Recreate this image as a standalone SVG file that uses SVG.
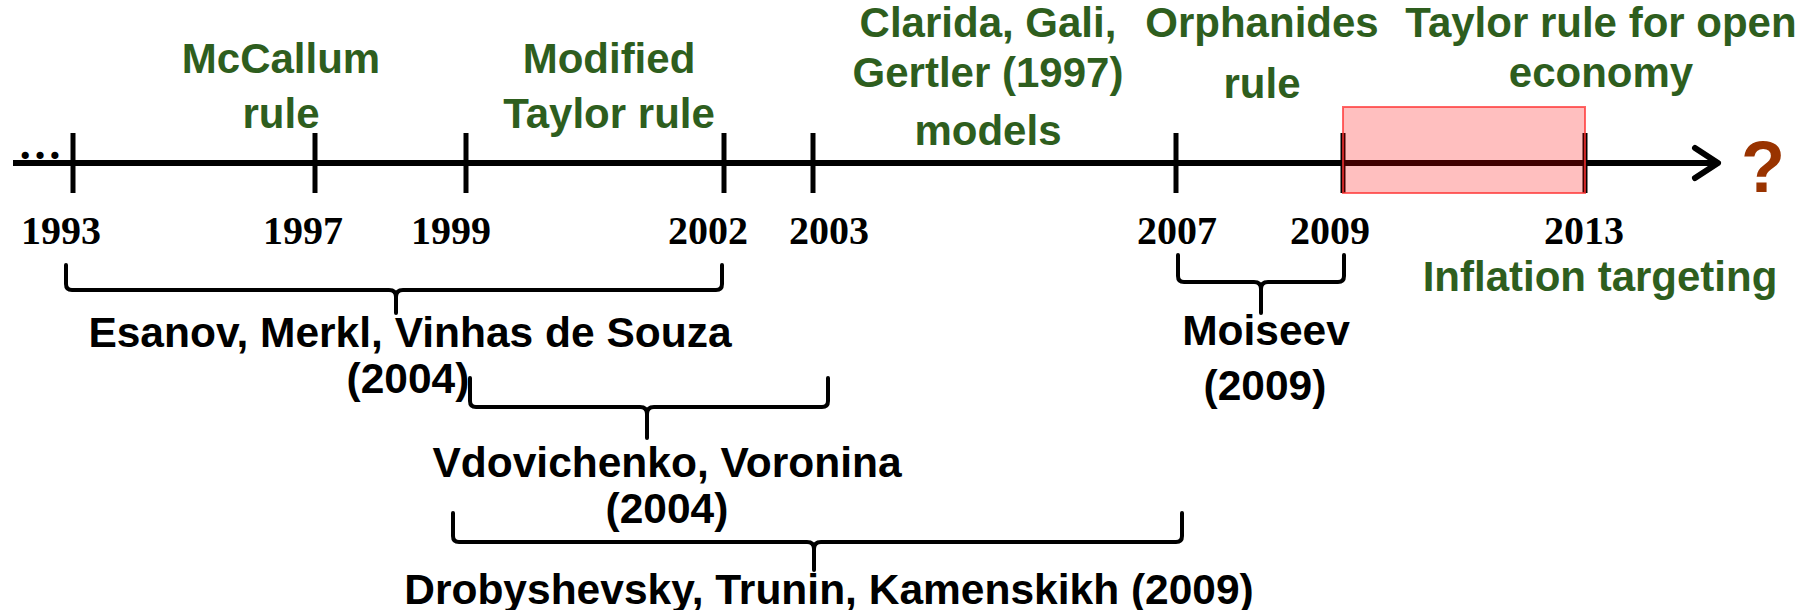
<svg xmlns="http://www.w3.org/2000/svg" width="1813" height="610" viewBox="0 0 1813 610">
<style>
.yr{font-family:"Liberation Serif","Times New Roman",serif;font-weight:bold;font-size:40px;fill:#000;text-anchor:middle}
.gr{font-family:"Liberation Sans",Arial,sans-serif;font-weight:bold;font-size:42px;fill:#2E5E1E;text-anchor:middle}
.bk{font-family:"Liberation Sans",Arial,sans-serif;font-weight:bold;font-size:42.5px;fill:#000;text-anchor:middle}
.tick{stroke:#000;stroke-width:5}
.brace{fill:none;stroke:#000;stroke-width:4;stroke-linecap:round;stroke-linejoin:round}
</style>
<rect width="1813" height="610" fill="#fff"/>
<g id="connectors">
  <line x1="13" y1="163" x2="1717" y2="163" stroke="#000" stroke-width="6"/>
  <polyline points="1695,148 1718,163 1695,178" fill="none" stroke="#000" stroke-width="6" stroke-linecap="round" stroke-linejoin="round"/>
  <line class="tick" x1="73" y1="133" x2="73" y2="193"/>
  <line class="tick" x1="315" y1="133" x2="315" y2="193"/>
  <line class="tick" x1="466" y1="133" x2="466" y2="193"/>
  <line class="tick" x1="724" y1="133" x2="724" y2="193"/>
  <line class="tick" x1="813" y1="133" x2="813" y2="193"/>
  <line class="tick" x1="1176" y1="133" x2="1176" y2="193"/>
  <line class="tick" x1="1343" y1="133" x2="1343" y2="193"/>
  <line class="tick" x1="1585" y1="133" x2="1585" y2="193"/>
  <path class="brace" d="M66,265 V284 Q66,290 72,290 H389 Q396,290 396,297 V313 M396,297 Q396,290 403,290 H716 Q722,290 722,284 V265"/>
  <path class="brace" d="M470,378 V401 Q470,407 476,407 H640 Q647,407 647,414 V438 M647,414 Q647,407 654,407 H822 Q828,407 828,401 V378"/>
  <path class="brace" d="M453,513 V536 Q453,542 459,542 H807 Q814,542 814,549 V570 M814,549 Q814,542 821,542 H1176 Q1182,542 1182,536 V513"/>
  <path class="brace" d="M1178,255 V276 Q1178,282 1184,282 H1254 Q1261,282 1261,289 V313 M1261,289 Q1261,282 1268,282 H1338 Q1344,282 1344,276 V255"/>
</g>
<g id="period-2009-2013">
  <rect x="1343" y="107" width="242" height="86" fill="#FF0000" fill-opacity="0.25" stroke="#FF3333" stroke-opacity="0.75" stroke-width="2"/>
</g>
<g id="ellipsis"><text x="18" y="159" font-family="Liberation Serif,serif" font-weight="bold" font-size="44">…</text></g>
<g id="question"><text x="1741" y="192" font-family="Liberation Sans,Arial,sans-serif" font-weight="bold" font-size="72" fill="#993300">?</text></g>
<g id="years">
  <text class="yr" x="61" y="244">1993</text>
  <text class="yr" x="303" y="244">1997</text>
  <text class="yr" x="451" y="244">1999</text>
  <text class="yr" x="708" y="244">2002</text>
  <text class="yr" x="829" y="244">2003</text>
  <text class="yr" x="1177" y="244">2007</text>
  <text class="yr" x="1330" y="244">2009</text>
  <text class="yr" x="1584" y="244">2013</text>
</g>
<g id="mccallum"><text class="gr" x="281" y="73">McCallum</text><text class="gr" x="281" y="128">rule</text></g>
<g id="modified-taylor"><text class="gr" x="609" y="73">Modified</text><text class="gr" x="609" y="128">Taylor rule</text></g>
<g id="cgg"><text class="gr" x="988" y="37">Clarida, Gali,</text><text class="gr" x="988" y="87">Gertler (1997)</text><text class="gr" x="988" y="145">models</text></g>
<g id="orphanides"><text class="gr" x="1262" y="37">Orphanides</text><text class="gr" x="1262" y="98">rule</text></g>
<g id="taylor-open"><text class="gr" x="1601" y="37">Taylor rule for open</text><text class="gr" x="1601" y="87">economy</text></g>
<g id="inflation-targeting"><text class="gr" x="1600" y="291">Inflation targeting</text></g>
<g id="esanov"><text class="bk" x="410" y="347">Esanov, Merkl, Vinhas de Souza</text><text class="bk" x="408" y="393">(2004)</text></g>
<g id="vdovichenko"><text class="bk" x="667" y="477">Vdovichenko, Voronina</text><text class="bk" x="667" y="523">(2004)</text></g>
<g id="drobyshevsky"><text class="bk" x="829" y="604">Drobyshevsky, Trunin, Kamenskikh (2009)</text></g>
<g id="moiseev"><text class="bk" x="1266" y="345">Moiseev</text><text class="bk" x="1265" y="400">(2009)</text></g>
</svg>
